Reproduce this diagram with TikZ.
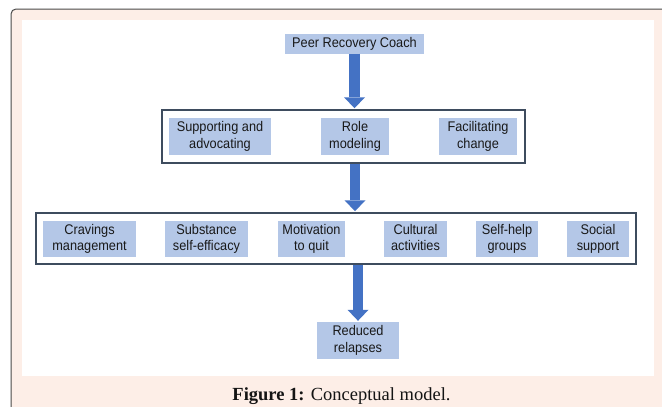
\documentclass[tikz,border=0pt]{standalone}
\usepackage{fontspec}
\setmainfont[FakeStretch=0.91]{Liberation Sans}
\newfontfamily\capfont{Liberation Serif}
\usetikzlibrary{arrows.meta}

\definecolor{boxblue}{HTML}{B4C7E7}
\definecolor{arrowblue}{HTML}{4472C4}
\definecolor{groupline}{HTML}{3E4C5E}
\definecolor{peach}{HTML}{FDEEE7}
\definecolor{frameline}{HTML}{4A4A4A}

\begin{document}
\begin{tikzpicture}[
  x=1pt, y=-1pt, font=\fontsize{14}{16.5}\selectfont,
  block/.style={fill=boxblue, text=black!90, inner sep=0pt, align=center,
    execute at begin node=\rule{0pt}{10.5pt},
    execute at end node=\rule[-3pt]{0pt}{3pt}},
  group/.style={draw=groupline, line width=1.5pt, inner sep=0pt},
  bigarrow/.style={draw=arrowblue, line width=10.5pt, shorten >=1pt,
    -{Triangle[length=11pt 0, width=21pt 0, line width=0pt 0]}}
]
\useasboundingbox (0,0) rectangle (662,407);
\clip (0,0) rectangle (662,407);

% page frame
\fill[peach, rounded corners=5pt] (11,9) rectangle (700,450);
\draw[frameline, line width=1pt, rounded corners=5pt] (11,450) -- (11,9) -- (700,9);
\fill[white] (21.5,20) rectangle (654,376);

\node[block, minimum width=139pt, minimum height=20pt] (peer) at (354.5,43.5) {Peer Recovery Coach};

% roles of the coach
\node[group, minimum width=363pt, minimum height=53pt] (row2) at (343.5,136.5) {};
\node[block, minimum width=102pt, minimum height=37pt] (support) at (220,136.5) {Supporting and\\advocating};
\node[block, minimum width=68pt, minimum height=37pt] (role) at (355,136.5) {Role\\modeling};
\node[block, minimum width=78pt, minimum height=37pt] (facil) at (478,136.5) {Facilitating\\change};

% outcomes
\node[group, minimum width=600pt, minimum height=51pt] (row3) at (336,238.5) {};
\node[block, minimum width=93pt, minimum height=36pt] (crav) at (89.5,239) {Cravings\\management};
\node[block, minimum width=83pt, minimum height=36pt] (subst) at (206.5,239) {Substance\\self-efficacy};
\node[block, minimum width=67pt, minimum height=36pt] (motiv) at (311.5,239) {Motivation\\to quit};
\node[block, minimum width=63pt, minimum height=36pt] (cult) at (415.5,239) {Cultural\\activities};
\node[block, minimum width=62pt, minimum height=36pt] (selfh) at (507,239) {Self-help\\groups};
\node[block, minimum width=62pt, minimum height=36pt] (social) at (598,239) {Social\\support};

\node[block, minimum width=82pt, minimum height=37pt] (reduced) at (358,340.5) {Reduced\\relapses};

\draw[bigarrow] (peer.south) -- (peer.south |- row2.north);
\draw[bigarrow] (role.south |- row2.south) -- (role.south |- row3.north);
\draw[bigarrow] (reduced.north |- row3.south) -- (reduced.north);

\node[font=\capfont\fontsize{18.5}{21}\selectfont, text=black!92, anchor=base] (caption) at (341.5,400.5) {\textbf{Figure 1:} Conceptual model.};

\end{tikzpicture}
\end{document}
